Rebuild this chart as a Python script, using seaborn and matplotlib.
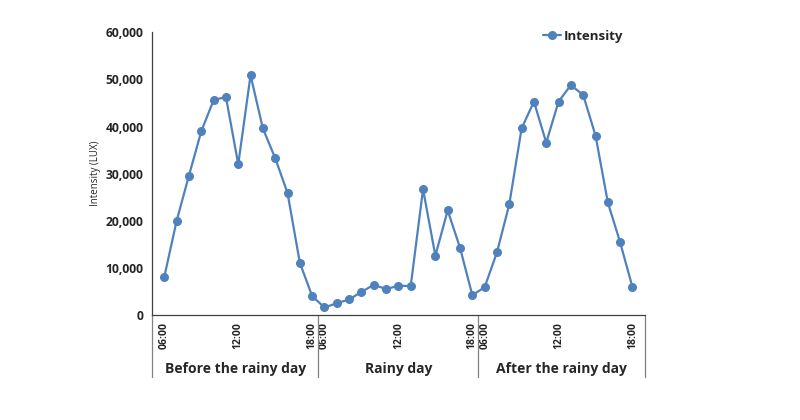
import numpy as np
import matplotlib
matplotlib.use("Agg")
import matplotlib.pyplot as plt
import matplotlib.transforms as mtransforms
import seaborn as sns

# hourly readings, 06:00 - 18:00
hours = [6, 7, 8, 9, 10, 11, 12, 13, 14, 15, 16, 17, 18]
before = [8100, 20000, 29600, 39000, 45600, 46300, 32000, 50900, 39600, 33300, 25900, 11100, 4000]
rainy = [1600, 2500, 3300, 4900, 6400, 5500, 6200, 6150, 26700, 12600, 22200, 14300, 4200]
after = [5900, 13300, 23500, 39600, 45300, 36600, 45300, 48800, 46700, 38100, 23900, 15400, 5900]
groups = ["Before the rainy day", "Rainy day", "After the rainy day"]
yticks = [0, 10000, 20000, 30000, 40000, 50000, 60000]

values = before + rainy + after
pos = np.arange(1, len(values) + 1)
tick_labels = [f"{h:02d}:00" if h in (6, 12, 18) else "" for h in hours] * 3

sns.set_style("white")
plt.rcParams["font.family"] = ["Open Sans", "DejaVu Sans"]

fig = plt.figure(figsize=(8, 4.2), dpi=100)
ax = fig.add_axes([0.19, 0.25, 0.616, 0.673])

sns.lineplot(x=pos, y=values, ax=ax, color="#4F81BD", marker="o", markersize=6.5,
             markeredgewidth=0, linewidth=1.6, label="Intensity")

ax.set_xlim(0, 40)
ax.set_ylim(0, 60000)
ax.set_yticks(yticks)
ax.set_yticklabels([f"{v:,}" for v in yticks], fontsize=8.7, fontweight="bold")
ax.set_xticks(pos)
ax.set_xticklabels(tick_labels, rotation=90, fontsize=7.5, fontweight="bold")
ax.tick_params(axis="both", direction="out", length=4, width=0.8, color="#404040", pad=2)
ax.tick_params(axis="x", length=3)
ax.set_ylabel("Intensity (LUX)", fontsize=7, labelpad=3)

sns.despine(ax=ax, top=True, right=True)
for s in ("left", "bottom"):
    ax.spines[s].set_color("#404040")
    ax.spines[s].set_linewidth(0.9)

# group separators and labels below the axis
trans = mtransforms.blended_transform_factory(ax.transData, ax.transAxes)
n = len(hours)
edges = [0, n + 0.5, 2 * n + 0.5, 40]
for e in edges:
    ax.plot([e, e], [0, -0.22], transform=trans, color="#808080", lw=0.9, clip_on=False)
for i, g in enumerate(groups):
    ax.text((edges[i] + edges[i + 1]) / 2, -0.19, g, transform=trans, ha="center", va="center",
            fontsize=10, fontweight="bold")

leg = ax.legend(loc="upper right", bbox_to_anchor=(0.98, 1.05), frameon=False,
                handlelength=1.4, handletextpad=0.2, prop={"weight": "bold", "size": 9.5})

fig.savefig("out.png", dpi=100)
